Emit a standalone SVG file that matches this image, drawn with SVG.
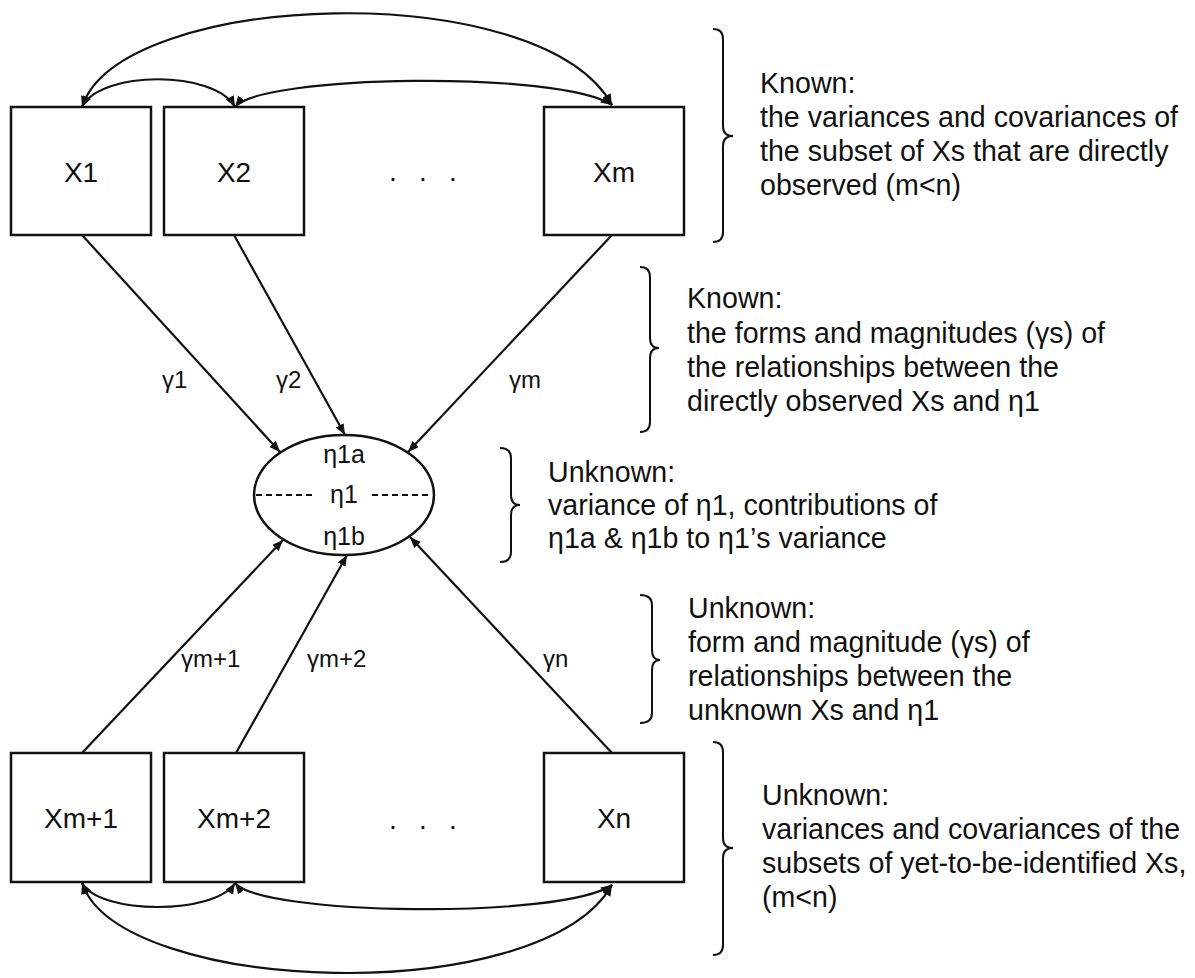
<svg xmlns="http://www.w3.org/2000/svg" width="1195" height="978" viewBox="0 0 1195 978">
<defs>
<marker id="ah" markerWidth="12" markerHeight="10" refX="11" refY="4.5" orient="auto-start-reverse" markerUnits="userSpaceOnUse">
<path d="M0,0 L11,4.5 L0,9 z" fill="#111"/>
</marker>
<style>
.box{fill:#fff;stroke:#111;stroke-width:2.5}
.lbl{font-family:"Liberation Sans",Arial,sans-serif;font-size:28px;fill:#111;text-anchor:middle}
.g{font-family:"Liberation Sans",Arial,sans-serif;font-size:24px;fill:#111}
.eta{font-family:"Liberation Sans",Arial,sans-serif;font-size:25px;fill:#111;text-anchor:middle}
.txt{font-family:"Liberation Sans",Arial,sans-serif;font-size:28.6px;fill:#111}
.dots{font-family:"Liberation Sans",Arial,sans-serif;font-size:28px;fill:#111;letter-spacing:7.2px}
.ln{fill:none;stroke:#111;stroke-width:2.2}
.br{fill:none;stroke:#111;stroke-width:2}
</style>
</defs>
<rect width="1195" height="978" fill="#fff"/>

<g id="connectors">
<path class="ln" d="M82,107 C120,-10 540,-25 612,105" marker-start="url(#ah)" marker-end="url(#ah)"/>
<path class="ln" d="M82,107 C100,70 215,70 235,107" marker-start="url(#ah)" marker-end="url(#ah)"/>
<path class="ln" d="M235,107 C260,75 560,70 612,105" marker-start="url(#ah)" marker-end="url(#ah)"/>
<path class="ln" d="M82,883 C100,915 215,915 235,883" marker-start="url(#ah)" marker-end="url(#ah)"/>
<path class="ln" d="M235,883 C260,915 560,920 612,885" marker-start="url(#ah)" marker-end="url(#ah)"/>
<path class="ln" d="M82,883 C120,995 540,1010 612,885" marker-start="url(#ah)" marker-end="url(#ah)"/>
<line class="ln" x1="82" y1="235" x2="280" y2="452" marker-end="url(#ah)"/>
<line class="ln" x1="234" y1="235" x2="345" y2="435" marker-end="url(#ah)"/>
<line class="ln" x1="612" y1="235" x2="408" y2="452" marker-end="url(#ah)"/>
<line class="ln" x1="82" y1="753" x2="283" y2="540" marker-end="url(#ah)"/>
<line class="ln" x1="236" y1="753" x2="347" y2="555" marker-end="url(#ah)"/>
<line class="ln" x1="612" y1="753" x2="410" y2="537" marker-end="url(#ah)"/>
<text class="g" x="162" y="388">γ1</text>
<text class="g" x="276" y="388">γ2</text>
<text class="g" x="509" y="388">γm</text>
<text class="g" x="181" y="667">γm+1</text>
<text class="g" x="307" y="667">γm+2</text>
<text class="g" x="543" y="667">γn</text>
</g>

<g id="X1"><rect class="box" x="11" y="107" width="140" height="128"/><text class="lbl" x="81" y="182">X1</text></g>
<g id="X2"><rect class="box" x="164" y="107" width="140" height="128"/><text class="lbl" x="234" y="182">X2</text></g>
<g id="dots-top"><text class="dots" x="389" y="181">. . .</text></g>
<g id="Xm"><rect class="box" x="544" y="107" width="140" height="128"/><text class="lbl" x="614" y="182">Xm</text></g>

<g id="eta1">
<ellipse cx="344" cy="495" rx="90" ry="60" fill="#fff" stroke="#111" stroke-width="2.5"/>
<line x1="256" y1="495" x2="316" y2="495" stroke="#111" stroke-width="2" stroke-dasharray="6 4"/>
<line x1="372" y1="495" x2="432" y2="495" stroke="#111" stroke-width="2" stroke-dasharray="6 4"/>
<text class="eta" x="344" y="463">η1a</text>
<text class="eta" x="344" y="503">η1</text>
<text class="eta" x="344" y="545">η1b</text>
</g>

<g id="Xm1"><rect class="box" x="11" y="753" width="140" height="129"/><text class="lbl" x="81" y="828">Xm+1</text></g>
<g id="Xm2"><rect class="box" x="164" y="753" width="140" height="129"/><text class="lbl" x="234" y="828">Xm+2</text></g>
<g id="dots-bottom"><text class="dots" x="389" y="829">. . .</text></g>
<g id="Xn"><rect class="box" x="544" y="753" width="140" height="129"/><text class="lbl" x="614" y="828">Xn</text></g>

<g id="note1">
<path class="br" d="M713,29 Q723,29 723,39 L723,126 Q723,136 733,136 Q723,136 723,146 L723,232 Q723,242 713,242"/>
<text class="txt" x="760" y="93">Known:</text>
<text class="txt" x="760" y="127">the variances and covariances of</text>
<text class="txt" x="760" y="161">the subset of Xs that are directly</text>
<text class="txt" x="760" y="195">observed (m&lt;n)</text>
</g>

<g id="note2">
<path class="br" d="M640,267 Q650,267 650,277 L650,338 Q650,348 659,348 Q650,348 650,358 L650,422 Q650,432 640,432"/>
<text class="txt" x="687" y="308">Known:</text>
<text class="txt" x="687" y="343">the forms and magnitudes (γs) of</text>
<text class="txt" x="687" y="377">the relationships between the</text>
<text class="txt" x="687" y="411">directly observed Xs and η1</text>
</g>

<g id="note3">
<path class="br" d="M500,448 Q511,448 511,458 L511,495 Q511,505 520,505 Q511,505 511,515 L511,552 Q511,562 500,562"/>
<text class="txt" x="548" y="482">Unknown:</text>
<text class="txt" x="548" y="515">variance of η1, contributions of</text>
<text class="txt" x="548" y="548">η1a &amp; η1b to η1’s variance</text>
</g>

<g id="note4">
<path class="br" d="M640,595 Q652,595 652,605 L652,650 Q652,660 660,660 Q652,660 652,670 L652,713 Q652,723 640,723"/>
<text class="txt" x="688" y="618">Unknown:</text>
<text class="txt" x="688" y="652">form and magnitude (γs) of</text>
<text class="txt" x="688" y="686">relationships between the</text>
<text class="txt" x="688" y="720">unknown Xs and η1</text>
</g>

<g id="note5">
<path class="br" d="M713,742 Q723,742 723,752 L723,838 Q723,848 733,848 Q723,848 723,858 L723,945 Q723,955 713,955"/>
<text class="txt" x="762" y="805">Unknown:</text>
<text class="txt" x="762" y="839">variances and covariances of the</text>
<text class="txt" x="762" y="873">subsets of yet-to-be-identified Xs,</text>
<text class="txt" x="762" y="907">(m&lt;n)</text>
</g>
</svg>
